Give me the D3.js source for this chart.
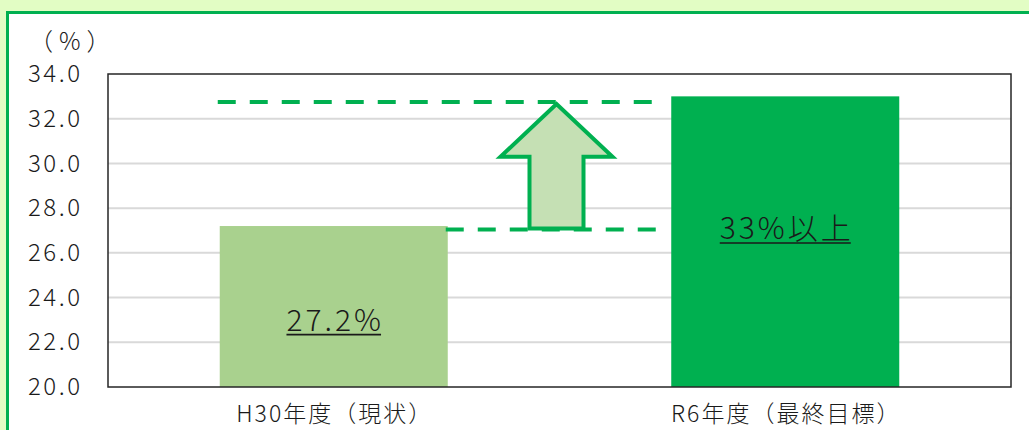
<!DOCTYPE html>
<html>
<head>
<meta charset="utf-8">
<script src="https://cdn.jsdelivr.net/npm/d3@7"></script>
<style>
  html, body { margin: 0; padding: 0; background: #e2fdc4; }
  .canva { width: 1029px; height: 430px; overflow: hidden; }
  text { font-family: "Noto Sans CJK JP", "Noto Sans", sans-serif; fill: #1a1a1a; font-weight: 300; }
</style>
</head>
<body>
<div class="canva"></div>
<script>
// chart data
const categories = ["H30年度（現状）", "R6年度（最終目標）"];
const values = [27.2, 33];
const valueLabels = ["27.2%", "33%以上"];
const barColors = ["#a9d18e", "#00b050"];
const yTicks = [20, 22, 24, 26, 28, 30, 32, 34];
const yUnit = "（%）";
// annotation levels for the dashed guides and the arrow
const guideLevels = [32.75, 27.05];

const svg = d3.select(".canva").append("svg")
  .attr("width", 1029)
  .attr("height", 430);

// white panel with green frame
svg.append("rect")
  .attr("x", 7.5).attr("y", 12.5)
  .attr("width", 1040).attr("height", 440)
  .attr("fill", "#fff")
  .attr("stroke", "#00b050")
  .attr("stroke-width", 3);

const plot = {left: 108, top: 74, right: 1011, bottom: 387};

const x = d3.scaleBand()
  .domain(categories)
  .range([plot.left, plot.right])
  .paddingInner(0.495)
  .paddingOuter(0.2475);

const y = d3.scaleLinear()
  .domain([20, 34])
  .range([plot.bottom, plot.top]);

// gridlines
svg.append("g")
  .selectAll("line")
  .data(yTicks.slice(1, -1))
  .enter()
  .append("line")
  .attr("x1", plot.left).attr("x2", plot.right)
  .attr("y1", d => y(d)).attr("y2", d => y(d))
  .attr("stroke", "#d9d9d9")
  .attr("stroke-width", 2);

// bars
svg.append("g")
  .selectAll("rect")
  .data(values)
  .enter()
  .append("rect")
  .attr("x", (d, i) => x(categories[i]))
  .attr("y", d => y(d))
  .attr("width", x.bandwidth())
  .attr("height", d => y(20) - y(d))
  .attr("fill", (d, i) => barColors[i]);

// plot frame
svg.append("rect")
  .attr("x", plot.left).attr("y", plot.top)
  .attr("width", plot.right - plot.left)
  .attr("height", plot.bottom - plot.top)
  .attr("fill", "none")
  .attr("stroke", "#262626")
  .attr("stroke-width", 1.5);

// y axis
const yAxis = d3.axisLeft(y)
  .tickValues(yTicks)
  .tickFormat(d3.format(".1f"))
  .tickSize(0)
  .tickPadding(25.5);
const gy = svg.append("g")
  .attr("transform", `translate(${plot.left},0)`)
  .call(yAxis);
gy.select(".domain").remove();
gy.selectAll("text")
  .style("font-size", "24px")
  .style("letter-spacing", "2.5px")
  .attr("fill", "#1a1a1a");

svg.append("text")
  .attr("x", 29).attr("y", 50)
  .style("font-size", "24px")
  .style("letter-spacing", "6px")
  .text(yUnit);

// x axis
const xAxis = d3.axisBottom(x).tickSize(0).tickPadding(19);
const gx = svg.append("g")
  .attr("transform", `translate(1,${plot.bottom})`)
  .call(xAxis);
gx.select(".domain").remove();
gx.selectAll("text")
  .style("font-size", "23px")
  .style("letter-spacing", "2px")
  .attr("fill", "#1a1a1a");

// value labels inside bars, underlined by hand
const labelY = [y(22.5), y(26.6)];
const valueText = svg.append("g")
  .selectAll("text")
  .data(valueLabels)
  .enter()
  .append("text")
  .attr("x", (d, i) => x(categories[i]) + x.bandwidth() / 2 + 1.5)
  .attr("y", (d, i) => labelY[i])
  .attr("text-anchor", "middle")
  .style("font-size", "30px")
  .style("letter-spacing", "3px")
  .text(d => d);

valueText.each(function(d, i) {
  const bb = this.getBBox();
  svg.append("line")
    .attr("x1", bb.x).attr("x2", bb.x + bb.width - 3)
    .attr("y1", labelY[i] + 3.5).attr("y2", labelY[i] + 3.5)
    .attr("stroke", "#1a1a1a")
    .attr("stroke-width", 1.6);
});

// dashed guides
const b0 = x(categories[0]), b1 = x(categories[1]);
const guideEnd = b1 - 12;
svg.append("line")
  .attr("x1", b0 - 2).attr("x2", guideEnd)
  .attr("y1", y(guideLevels[0])).attr("y2", y(guideLevels[0]))
  .attr("stroke", "#00b050").attr("stroke-width", 4)
  .attr("stroke-dasharray", "18 14");
svg.append("line")
  .attr("x1", b0 + x.bandwidth() - 2).attr("x2", guideEnd)
  .attr("y1", y(guideLevels[1])).attr("y2", y(guideLevels[1]))
  .attr("stroke", "#00b050").attr("stroke-width", 4)
  .attr("stroke-dasharray", "18 14");

// arrow between the bars
const cx = (b0 + x.bandwidth() + b1) / 2 - 3;
const tipY = y(guideLevels[0]) + 2;
const baseY = y(guideLevels[1]) - 1;
const headY = y(30.3);
const headHalf = 56, shaftHalf = 27;
const arrowPts = [
  [cx, tipY], [cx + headHalf, headY], [cx + shaftHalf, headY],
  [cx + shaftHalf, baseY], [cx - shaftHalf, baseY], [cx - shaftHalf, headY],
  [cx - headHalf, headY]
];
svg.append("path")
  .attr("d", d3.line()(arrowPts) + "Z")
  .attr("fill", "#c5e0b4")
  .attr("stroke", "#00b050")
  .attr("stroke-width", 4)
  .attr("stroke-linejoin", "miter");
</script>
</body>
</html>
